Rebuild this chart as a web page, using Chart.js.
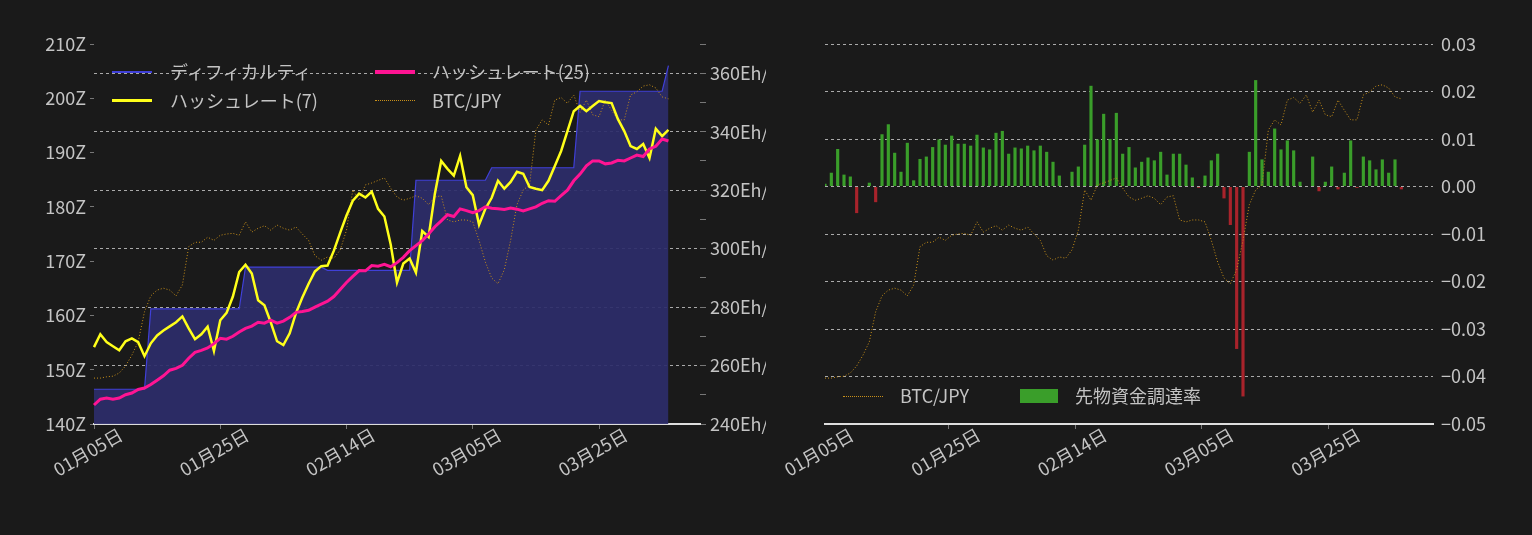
<!DOCTYPE html>
<html><head><meta charset="utf-8">
<script src="https://cdn.jsdelivr.net/npm/chart.js@4"></script>
<style>
html,body{margin:0;padding:0;background:#1a1a1a;width:1532px;height:535px;overflow:hidden;font-family:"Noto Sans CJK JP","Noto Sans",sans-serif;}
.wrap{position:absolute;top:0;width:766px;height:535px;}
.lg{position:absolute;color:#c4c4c4;font-size:18px;line-height:20px;white-space:nowrap;}
.sw{position:absolute;width:40px;}
</style></head><body>
<div class="wrap" style="left:0"><canvas id="c1" width="766" height="535"></canvas></div>
<div class="wrap" style="left:766px"><canvas id="c2" width="766" height="535"></canvas></div>

<div class="sw" style="left:112px;top:71px;height:2px;background:#4040d8"></div><div class="lg" style="left:170px;top:61px">ディフィカルティ</div>
<div class="sw" style="left:375px;top:70px;height:4px;background:#ff1493"></div><div class="lg" style="left:432px;top:61px">ハッシュレート(25)</div>
<div class="sw" style="left:112px;top:99px;height:3px;background:#ffff1a"></div><div class="lg" style="left:170px;top:90px">ハッシュレート(7)</div>
<div class="sw" style="left:375px;top:100px;height:0;border-top:1px dotted #c8901a"></div><div class="lg" style="left:432px;top:90px">BTC/JPY</div>

<div class="sw" style="left:843px;top:396px;height:0;border-top:1px dotted #c8901a"></div><div class="lg" style="left:900px;top:385px">BTC/JPY</div>
<div class="sw" style="left:1020px;top:389px;width:38px;height:14px;background:#3a9e2a"></div><div class="lg" style="left:1075px;top:385px">先物資金調達率</div>

<script>
const tickLabels = ['01月05日','01月25日','02月14日','03月05日','03月25日'];
const difficulty = [146.4,146.4,146.4,146.4,146.4,146.4,146.4,146.4,146.4,
 161.2,161.2,161.2,161.2,161.2,161.2,161.2,161.2,161.2,161.2,161.2,161.2,161.2,161.2,161.2,
 168.9,168.9,168.9,168.9,168.9,168.9,168.9,168.9,168.9,168.9,168.9,168.9,168.9,
 168.3,168.3,168.3,168.3,168.3,168.3,168.3,168.3,168.3,168.3,168.3,168.3,168.3,168.3,
 184.9,184.9,184.9,184.9,184.9,184.9,184.9,184.9,184.9,184.9,184.9,184.9,
 187.2,187.2,187.2,187.2,187.2,187.2,187.2,187.2,187.2,187.2,187.2,187.2,187.2,187.2,
 201.3,201.3,201.3,201.3,201.3,201.3,201.3,201.3,201.3,201.3,201.3,201.3,201.3,201.3,206];
const hash7 = [266.3,270.7,268,266.6,265.2,268.3,269.3,268,263.2,267.6,270.3,272,273.4,274.8,276.8,272.7,269,270.7,273.3,265,
 275.5,278,283.6,292,294.5,291.5,282.3,280.6,274.8,268.3,267,271,278,283.3,288,292.2,294,294.2,299.3,305.5,
 311.3,316.4,318.8,317.5,319.5,313.6,311,301.4,288.4,294.9,296.6,291.8,306,304,318.8,330,327.3,325,331.7,321,
 318.3,308.2,313.6,317.4,323.2,320.5,322.8,326.3,325.6,321.1,320.5,320,323.2,328.3,333.4,340.2,347,348.8,347,348.8,
 350.5,350.1,349.8,344.3,340.2,335.1,334.1,335.8,331,341,338.5,340.6];
const hash25 = [246.5,248.5,248.9,248.5,248.9,250,250.6,251.8,252.3,253.5,255,256.5,258.4,259,260.1,262.5,264.5,265.2,266,267.5,
 269.3,269,270,271.5,272.7,273.5,274.8,274.5,275.5,274.5,275.2,276.5,278.2,278.5,278.9,280,281,282,283.6,286,
 288.4,290.5,292.5,292.4,294.2,294,294.6,293.8,295.2,297,299.3,301,302.7,305,307.5,309.5,311.6,311,313.6,313,
 312.3,313,314.3,313.8,313.6,313.4,313.9,313.5,312.9,313.6,314.3,315.5,316.4,316.2,318.1,320,323.2,325.5,328.3,330,
 330,329,329.3,330.2,330,331,332,331.5,334.1,335,337.5,336.8];
const btcJpy = [6.30,6.30,6.32,6.33,6.38,6.49,6.66,6.87,7.34,7.59,7.68,7.71,7.68,7.59,7.76,8.36,8.43,8.43,8.51,8.46,
 8.54,8.56,8.57,8.54,8.75,8.59,8.65,8.69,8.62,8.70,8.65,8.62,8.67,8.56,8.46,8.22,8.15,8.20,8.18,8.31,
 8.62,9.25,9.09,9.33,9.36,9.40,9.44,9.28,9.14,9.09,9.12,9.16,9.12,9.02,9.14,9.16,8.78,8.75,8.78,8.78,
 8.75,8.46,8.12,7.87,7.78,8.00,8.46,9.02,9.25,9.33,10.19,10.35,10.27,10.66,10.70,10.61,10.74,10.47,10.66,10.43,
 10.40,10.66,10.50,10.35,10.35,10.74,10.79,10.88,10.90,10.85,10.71,10.68];
const funding = [0.0006,0.0029,0.0079,0.0025,0.0021,-0.0056,0,0.0008,-0.0033,0.011,0.0131,0.0071,0.0031,0.0092,0.0013,0.0058,0.0063,0.0083,0.0099,0.0088,
 0.0107,0.009,0.009,0.0086,0.0109,0.0082,0.0078,0.0113,0.0117,0.0069,0.0082,0.008,0.0086,0.0076,0.0086,0.0073,0.0052,0.0023,0,0.0031,
 0.0042,0.0088,0.0212,0.0099,0.0153,0.01,0.0155,0.0069,0.0083,0.004,0.0052,0.0061,0.0055,0.0073,0.0025,0.0069,0.0069,0.0046,0.0019,-0.0003,
 0.0023,0.0055,0.0069,-0.0025,-0.0081,-0.0342,-0.0442,0.0073,0.0224,0.0057,0.0031,0.0122,0.0078,0.0097,0.0076,0.001,0,0.0063,-0.001,0.001,
 0.0042,-0.0006,0.0029,0.0097,-0.0003,0.0063,0.0055,0.0036,0.0057,0.0029,0.0057,-0.0006];

// daily categories 01/05 .. 04/10
const categories = [];
for (let i = 0; i < 97; i++) {
  const d = new Date(2024, 0, 5 + i);
  categories.push(String(d.getMonth()+1).padStart(2,'0') + '月 ' + String(d.getDate()).padStart(2,'0') + '日');
}
const FONT = '"Noto Sans CJK JP","Noto Sans",sans-serif';
const TXT = '#c4c4c4';
Chart.defaults.font.family = FONT;
Chart.defaults.color = TXT;

const xLabelPlugin = {
  id: 'xlab',
  afterDraw(chart) {
    const sc = chart.scales.x, ctx = chart.ctx;
    ctx.save();
    ctx.font = '18px ' + FONT; ctx.fillStyle = TXT;
    ctx.textAlign = 'center'; ctx.textBaseline = 'middle';
    tickLabels.forEach((t, k) => {
      const x = sc.getPixelForValue(k * 20);
      ctx.save(); ctx.translate(x - 6, 452); ctx.rotate(-Math.PI / 6);
      ctx.fillText(t, 0, 0); ctx.restore();
    });
    ctx.restore();
  }
};

function xScale(h) {
  return {
    type: 'category', offset: false,
    ticks: { display: true, autoSkip: false, callback: () => '', maxRotation: 0 },
    grid: { drawOnChartArea: false, color: c => (c.index % 20 === 0 ? '#777' : 'transparent'), tickLength: 5 },
    border: { display: true, color: '#dddddd', width: 2 },
    afterFit: s => { s.height = h; }
  };
}

new Chart(document.getElementById('c1'), {
  type: 'line',
  data: {
    labels: categories,
    datasets: [
      { label: 'ディフィカルティ', data: difficulty, yAxisID: 'yD', borderColor: '#4040d8', borderWidth: 1.2,
        backgroundColor: 'rgba(44,44,106,0.92)', fill: 'start', pointRadius: 0, tension: 0, order: 4 },
      { label: 'BTC/JPY', data: btcJpy, yAxisID: 'yB', borderColor: '#c8901a', borderWidth: 1, borderDash: [1, 2],
        pointRadius: 0, fill: false, order: 3 },
      { label: 'ハッシュレート(7)', data: hash7, yAxisID: 'yH', borderColor: '#ffff1a', borderWidth: 2.5, pointRadius: 0, fill: false, order: 2 },
      { label: 'ハッシュレート(25)', data: hash25, yAxisID: 'yH', borderColor: '#ff1493', borderWidth: 3, pointRadius: 0, fill: false, order: 1 }
    ]
  },
  options: {
    responsive: false, animation: false, devicePixelRatio: 1,
    layout: { padding: { top: 44, left: 0, right: 0, bottom: 0 } },
    plugins: { legend: { display: false }, tooltip: { enabled: false } },
    scales: {
      x: xScale(111),
      yD: { position: 'left', min: 140, max: 210,
        ticks: { stepSize: 10, callback: v => v + 'Z', font: { size: 18 }, color: TXT, padding: 4 },
        grid: { drawOnChartArea: false, color: '#777', tickLength: 4 }, border: { display: false },
        afterFit: s => { s.width = 94; } },
      yH: { position: 'right', min: 240, max: 370,
        ticks: { stepSize: 10, callback: v => (v % 20 === 0 ? v + 'Eh/s' : ''), font: { size: 18 }, color: TXT, padding: 4 },
        grid: { drawOnChartArea: true, color: c => (c.tick && c.tick.value % 20 === 0 && c.tick.value !== 240 ? '#aaaaaa' : 'transparent'),
          tickColor: '#777', tickLength: 6, lineWidth: 1, tickBorderDash: [] },
        border: { display: false, dash: [3, 3] },
        afterFit: s => { s.width = 66; } },
      yB: { display: false, min: 5.58, max: 11.54 }
    }
  },
  plugins: [xLabelPlugin]
});

new Chart(document.getElementById('c2'), {
  type: 'bar',
  data: {
    labels: categories,
    datasets: [
      { type: 'line', label: 'BTC/JPY', data: btcJpy, yAxisID: 'yB', borderColor: '#c8901a', borderWidth: 1, borderDash: [1, 2],
        pointRadius: 0, fill: false, order: 1 },
      { type: 'bar', label: '先物資金調達率', data: funding, yAxisID: 'yF',
        backgroundColor: funding.map(v => v >= 0 ? '#3a9e2a' : '#a8232b'),
        barPercentage: 0.5, categoryPercentage: 1, order: 2 }
    ]
  },
  options: {
    responsive: false, animation: false, devicePixelRatio: 1,
    layout: { padding: { top: 44, left: 59, right: 0, bottom: 0 } },
    plugins: { legend: { display: false }, tooltip: { enabled: false } },
    scales: {
      x: xScale(111),
      yF: { position: 'right', min: -0.05, max: 0.03,
        ticks: { stepSize: 0.01, callback: v => { const r = Math.round(v * 100) / 100; return (r < 0 ? '\u2212' : '') + Math.abs(r).toFixed(2); },
          font: { size: 18 }, color: TXT, padding: 8 },
        grid: { drawOnChartArea: true, drawTicks: false, color: c => (c.tick && Math.abs(c.tick.value + 0.05) > 1e-6 ? '#aaaaaa' : 'transparent') },
        border: { display: false, dash: [3, 3] },
        afterFit: s => { s.width = 99; } },
      yB: { display: false, position: 'left', min: 5.58, max: 11.54 }
    }
  },
  plugins: [xLabelPlugin]
});
</script>
</body></html>
